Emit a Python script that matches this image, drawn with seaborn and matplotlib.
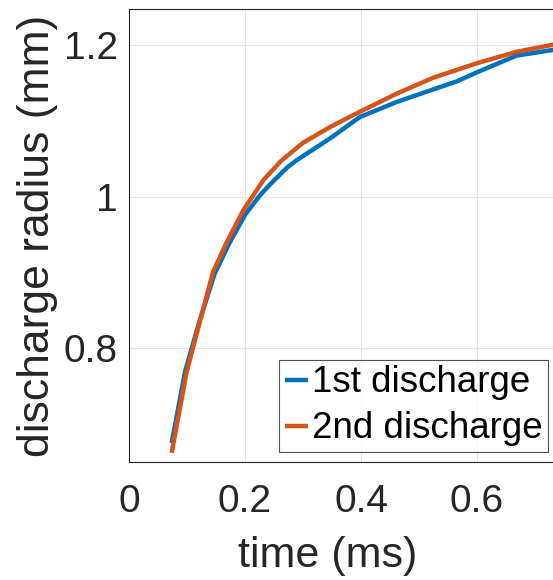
import matplotlib
matplotlib.use("Agg")
import matplotlib.pyplot as plt
import seaborn as sns
import pandas as pd

# Data
time_1 = [0.0736, 0.0966, 0.122, 0.148, 0.174, 0.2, 0.226, 0.243, 0.272, 0.289, 0.347,
          0.398, 0.462, 0.519, 0.565, 0.600, 0.668, 0.735]
radius_1 = [0.675, 0.769, 0.837, 0.899, 0.940, 0.976, 1.002, 1.016, 1.038, 1.048, 1.077,
            1.105, 1.125, 1.140, 1.152, 1.164, 1.186, 1.194]
time_2 = [0.0736, 0.0994, 0.117, 0.145, 0.168, 0.197, 0.232, 0.262, 0.300, 0.347,
          0.398, 0.462, 0.525, 0.600, 0.668, 0.735]
radius_2 = [0.662, 0.769, 0.820, 0.901, 0.939, 0.982, 1.022, 1.047, 1.071, 1.092,
            1.112, 1.136, 1.157, 1.176, 1.191, 1.201]
labels = ["1st discharge", "2nd discharge"]
colors = ["#0072BD", "#D95319"]
x_ticks = [0, 0.2, 0.4, 0.6]
x_tick_labels = ["0", "0.2", "0.4", "0.6"]
y_ticks = [0.8, 1.0, 1.2]
y_tick_labels = ["0.8", "1", "1.2"]

df = pd.concat([
    pd.DataFrame({"time": time_1, "radius": radius_1, "series": labels[0]}),
    pd.DataFrame({"time": time_2, "radius": radius_2, "series": labels[1]}),
])

sns.set_theme(style="white")
plt.rcParams["font.family"] = ["Liberation Sans", "DejaVu Sans"]

fig = plt.figure(figsize=(5.53, 5.80), dpi=100)
ax = fig.add_axes([129/553, 1 - 462/580, 1 - 129/553, (462 - 9)/580])

sns.lineplot(data=df, x="time", y="radius", hue="series", palette=colors,
             linewidth=3.2, ax=ax, sort=False, estimator=None, legend=True)
for ln in ax.get_lines():
    ln.set_solid_joinstyle("round")
    ln.set_solid_capstyle("butt")

ax.set_xlim(0, 0.731)
ax.set_ylim(0.65, 1.2475)
ax.set_xticks(x_ticks)
ax.set_xticklabels(x_tick_labels)
ax.set_yticks(y_ticks)
ax.set_yticklabels(y_tick_labels)
ax.grid(True, color="#e3e3e3", linewidth=0.8)
ax.set_axisbelow(True)

for s in ["left", "bottom", "top"]:
    ax.spines[s].set_color("#262626")
    ax.spines[s].set_linewidth(0.8)
ax.spines["right"].set_visible(False)

ax.tick_params(axis="both", direction="in", length=4, width=0.8, colors="#262626",
               labelsize=28, labelcolor="#262626")
ax.tick_params(axis="x", pad=16)
ax.tick_params(axis="y", pad=8)

ax.set_xlabel("time (ms)", fontsize=31, color="#262626")
ax.set_ylabel("discharge radius (mm)", fontsize=32, color="#262626")
ax.xaxis.set_label_coords((328 - 129) / (553 - 129), -(536 - 462) / (462 - 9))
ax.yaxis.set_label_coords(-(129 - 58) / (553 - 129), 0.5)

leg = ax.legend(loc="lower right", bbox_to_anchor=((548 - 129) / (553 - 129), (462 - 452) / (462 - 9)),
                fontsize=26.5, frameon=True, fancybox=False, edgecolor="#262626",
                handlelength=0.63, handletextpad=0.11, borderpad=0.15, labelspacing=0.3,
                borderaxespad=0)
leg.get_frame().set_linewidth(0.8)
for t in leg.get_texts():
    t.set_color("black")

fig.savefig("out.png", dpi=100)
